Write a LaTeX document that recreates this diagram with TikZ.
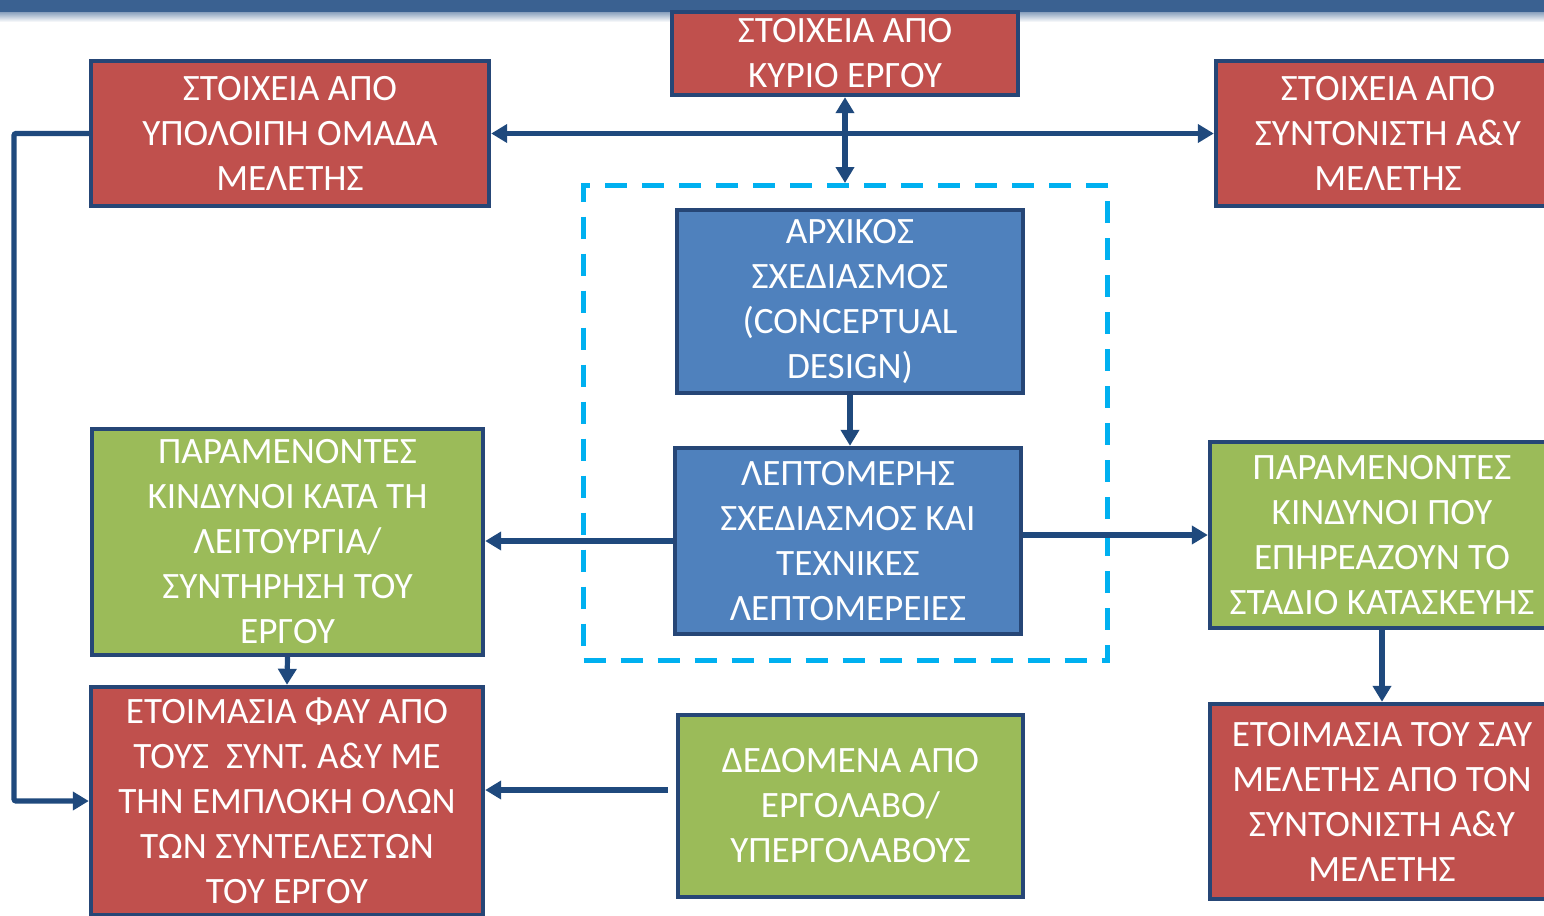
\documentclass[tikz,border=0pt]{standalone}
\usepackage{fontspec}
\setmainfont{Carlito}
\usepackage{tikz}
\usetikzlibrary{arrows.meta}

\definecolor{barblue}{RGB}{58,97,145}
\definecolor{edgeblue}{RGB}{38,70,118}
\definecolor{arrowblue}{RGB}{31,73,125}
\definecolor{boxred}{RGB}{192,80,77}
\definecolor{boxgreen}{RGB}{155,187,89}
\definecolor{boxblue}{RGB}{79,129,189}
\definecolor{framecyan}{RGB}{0,176,240}

\tikzset{
  box/.style={draw=edgeblue, line width=2.2pt, inner sep=0pt, align=center,
    text=white, font=\fontsize{18.6}{22.5}\selectfont},
  redbox/.style={box, fill=boxred},
  greenbox/.style={box, fill=boxgreen},
  bluebox/.style={box, fill=boxblue},
  arr/.style={draw=arrowblue, line width=2.6pt, -{Triangle[length=8pt,width=9pt]}},
  biarr/.style={arr, {Triangle[length=8pt,width=9pt]}-{Triangle[length=8pt,width=9pt]}},
}

\begin{document}
\begin{tikzpicture}[x=0.5pt, y=-0.5pt]
  \useasboundingbox (0,0) rectangle (1544,916);
  \clip (0,0) rectangle (1544,916);

  % top band
  \fill[barblue] (0,0) rectangle (1544,12);
  \shade[top color=barblue!60, bottom color=white] (0,12) rectangle (1544,22);

  % dashed frame round the design steps
  \node[draw=framecyan, line width=2.5pt, dash pattern=on 11pt off 7.5pt,
    minimum width=262pt, minimum height=237.5pt] (frame) at (845.5,423) {};

  \node[redbox, minimum width=173pt, minimum height=41.5pt] (kyrio) at (845,53.5)
    {ΣΤΟΙΧΕΙΑ ΑΠΟ\\ΚΥΡΙΟ ΕΡΓΟΥ};
  \node[redbox, minimum width=199pt, minimum height=72.5pt] (omada) at (290,133.5)
    {ΣΤΟΙΧΕΙΑ ΑΠΟ\\ΥΠΟΛΟΙΠΗ ΟΜΑΔΑ\\ΜΕΛΕΤΗΣ};
  \node[redbox, minimum width=172pt, minimum height=72.5pt] (syntonistis) at (1388,133.5)
    {ΣΤΟΙΧΕΙΑ ΑΠΟ\\ΣΥΝΤΟΝΙΣΤΗ Α\&Υ\\ΜΕΛΕΤΗΣ};
  \node[bluebox, minimum width=173pt, minimum height=91.5pt] (arxikos) at (850,301.5)
    {ΑΡΧΙΚΟΣ\\ΣΧΕΔΙΑΣΜΟΣ\\(CONCEPTUAL\\DESIGN)};
  \node[bluebox, minimum width=173pt, minimum height=93pt] (leptom) at (848,541)
    {ΛΕΠΤΟΜΕΡΗΣ\\ΣΧΕΔΙΑΣΜΟΣ ΚΑΙ\\ΤΕΧΝΙΚΕΣ\\ΛΕΠΤΟΜΕΡΕΙΕΣ};
  \node[greenbox, minimum width=195.5pt, minimum height=113pt] (leitourgia) at (287.5,542)
    {ΠΑΡΑΜΕΝΟΝΤΕΣ\\ΚΙΝΔΥΝΟΙ ΚΑΤΑ ΤΗ\\ΛΕΙΤΟΥΡΓΙΑ/\\ΣΥΝΤΗΡΗΣΗ ΤΟΥ\\ΕΡΓΟΥ};
  \node[greenbox, minimum width=172pt, minimum height=93pt] (kataskevi) at (1382,535)
    {ΠΑΡΑΜΕΝΟΝΤΕΣ\\ΚΙΝΔΥΝΟΙ ΠΟΥ\\ΕΠΗΡΕΑΖΟΥΝ ΤΟ\\ΣΤΑΔΙΟ ΚΑΤΑΣΚΕΥΗΣ};
  \node[redbox, minimum width=196pt, minimum height=114pt] (fay) at (287,801)
    {ΕΤΟΙΜΑΣΙΑ ΦΑΥ ΑΠΟ\\ΤΟΥΣ\ \ ΣΥΝΤ. Α\&Υ ΜΕ\\ΤΗΝ ΕΜΠΛΟΚΗ ΟΛΩΝ\\ΤΩΝ ΣΥΝΤΕΛΕΣΤΩΝ\\ΤΟΥ ΕΡΓΟΥ};
  \node[greenbox, minimum width=172.5pt, minimum height=91pt] (ergolavos) at (850.5,806)
    {ΔΕΔΟΜΕΝΑ ΑΠΟ\\ΕΡΓΟΛΑΒΟ/\\ΥΠΕΡΓΟΛΑΒΟΥΣ};
  \node[redbox, minimum width=172pt, minimum height=97.5pt] (say) at (1382,801.5)
    {ΕΤΟΙΜΑΣΙΑ ΤΟΥ ΣΑΥ\\ΜΕΛΕΤΗΣ ΑΠΌ ΤΟΝ\\ΣΥΝΤΟΝΙΣΤΗ Α\&Υ\\ΜΕΛΕΤΗΣ};

  % connectors
  \draw[biarr] (omada.east) -- (syntonistis.west);
  \draw[biarr] (kyrio.south) -- (kyrio.south |- frame.north);
  \draw[arr] (arxikos.south) -- (arxikos.south |- leptom.north);
  \draw[arr] (leptom.west) -- (leptom.west -| leitourgia.east);
  \draw[arr] (leptom.east |- kataskevi.west) -- (kataskevi.west);
  \draw[arr] (leitourgia.south) -- (fay.north);
  \draw[arr] (kataskevi.south) -- (say.north);
  \coordinate (dedout) at ([shift={(-8,-16)}]ergolavos.west);
  \draw[arr] (dedout) -- (dedout -| fay.east);
  \draw[arr, rounded corners=1pt] (omada.west) -- (14,133.5) |- (fay.west);
\end{tikzpicture}
\end{document}
